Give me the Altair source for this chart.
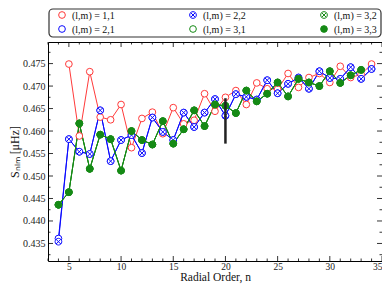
import altair as alt
import pandas as pd

# ---------------- data ----------------
n_red = list(range(5, 35))
s_11 = [0.4749, 0.4589, 0.4732, 0.4631, 0.4625, 0.4659, 0.4563, 0.4628, 0.4642, 0.4594,
        0.4652, 0.4616, 0.4624, 0.4683, 0.4644, 0.4675, 0.4690, 0.4659, 0.4707, 0.4694,
        0.4693, 0.4728, 0.4697, 0.4719, 0.4728, 0.4708, 0.4744, 0.4719, 0.4726, 0.4749]

n_blue = list(range(4, 35))
s_21 = [0.4361, 0.4582, 0.4554, 0.4549, 0.4646, 0.4533, 0.4580, 0.4591, 0.4551, 0.4630,
        0.4598, 0.4580, 0.4641, 0.4609, 0.4641, 0.4671, 0.4634, 0.4682, 0.4676, 0.4670,
        0.4713, 0.4684, 0.4705, 0.4719, 0.4694, 0.4733, 0.4718, 0.4716, 0.4742, 0.4716,
        0.4738]
s_22 = [0.4354, 0.4582, 0.4554, 0.4549, 0.4646, 0.4533, 0.4580, 0.4591, 0.4551, 0.4630,
        0.4598, 0.4580, 0.4641, 0.4609, 0.4641, 0.4671, 0.4634, 0.4682, 0.4676, 0.4670,
        0.4713, 0.4684, 0.4705, 0.4719, 0.4694, 0.4733, 0.4718, 0.4716, 0.4742, 0.4716,
        0.4738]

n_green = list(range(4, 34))
s_31 = [0.4436, 0.4464, 0.4617, 0.4516, 0.4592, 0.4582, 0.4512, 0.4600, 0.4580, 0.4570,
        0.4622, 0.4572, 0.4604, 0.4646, 0.4611, 0.4659, 0.4656, 0.4640, 0.4690, 0.4666,
        0.4683, 0.4708, 0.4677, 0.4716, 0.4708, 0.4700, 0.4733, 0.4707, 0.4724, 0.4736]
s_32 = list(s_31)
s_33 = list(s_31)

marker_n = [20]
marker_lo = [0.4572]
marker_hi = [0.4673]

x_major = [5, 10, 15, 20, 25, 30, 35]
x_minor = [3, 4, 6, 7, 8, 9, 11, 12, 13, 14, 16, 17, 18, 19, 21, 22, 23, 24,
           26, 27, 28, 29, 31, 32, 33, 34]
y_major = [0.435, 0.440, 0.445, 0.450, 0.455, 0.460, 0.465, 0.470, 0.475]
y_minor = [0.4325, 0.4375, 0.4425, 0.4475, 0.4525, 0.4575, 0.4625, 0.4675, 0.4725, 0.4775]

# legend entries (column-major layout as in the reference)
legend_series = ["1,1", "2,2", "3,2", "2,1", "3,1", "3,3"]
legend_col = [0, 1, 2, 0, 1, 2]
legend_row = [0, 0, 0, 1, 1, 1]

# ---------------- tables ----------------
series = [("1,1", n_red, s_11), ("2,1", n_blue, s_21), ("2,2", n_blue, s_22),
          ("3,1", n_green, s_31), ("3,2", n_green, s_32), ("3,3", n_green, s_33)]
rows = []
k = 0
for name, ns, ss in series:
    for n, s in zip(ns, ss):
        rows.append({"s": name, "n": n, "S": s, "k": k})
        k += 1
df = pd.DataFrame(rows)

RED = "#ff3a3a"
BLUE = "#0a0aff"
GREEN = "#158a15"
FONT = "Liberation Serif"
XPATH = ("M-1,0A1,1,0,1,1,1,0A1,1,0,1,1,-1,0Z"
         "M-0.7071,-0.7071L0.7071,0.7071M-0.7071,0.7071L0.7071,-0.7071")

dom = ["1,1", "2,2", "3,2", "2,1", "3,1", "3,3"]
stroke_range = [RED, BLUE, GREEN, BLUE, GREEN, GREEN]
fill_range = ["white", "white", "white", "white", "white", GREEN]
shape_range = ["circle", XPATH, XPATH, "circle", "circle", "circle"]

W, H = 334, 219
xs = alt.Scale(domain=[3, 35], nice=False, zero=False)
ys = alt.Scale(domain=[0.4311, 0.4798], nice=False, zero=False)
xax = alt.Axis(values=x_major, format="d", title="Radial Order, n", ticks=False,
               domain=False, grid=False, labelPadding=0, titlePadding=1,
               labelFontSize=9.5, titleFontSize=11.5)
yax = alt.Axis(values=y_major, format=".3f", title="Sₙₗₘ [μHz]", ticks=False,
               domain=False, grid=False, labelPadding=3, titlePadding=1)
X = alt.X("n:Q", scale=xs, axis=xax)
Y = alt.Y("S:Q", scale=ys, axis=yax)

stroke_enc = alt.Stroke("s:N", scale=alt.Scale(domain=dom, range=stroke_range), legend=None)
fill_enc = alt.Fill("s:N", scale=alt.Scale(domain=dom, range=fill_range), legend=None)
shape_enc = alt.Shape("s:N", scale=alt.Scale(domain=dom, range=shape_range), legend=None)

lines = alt.Chart(df).mark_line(strokeWidth=1).encode(
    x=X, y=Y, detail="s:N", order=alt.Order("n:Q"), stroke=stroke_enc)

pts = alt.Chart(df).mark_point(size=45, strokeWidth=1, opacity=1).encode(
    x=X, y=Y, stroke=stroke_enc, fill=fill_enc, shape=shape_enc,
    order=alt.Order("k:Q"))

mdf = pd.DataFrame({"n": marker_n, "S": marker_lo, "S2": marker_hi})
mrule = alt.Chart(mdf).mark_rule(color="#222222", strokeWidth=2.5).encode(
    x=X, y=Y, y2="S2:Q")

def xticks(vals, length):
    d = pd.DataFrame({"n": vals})
    b = alt.Chart(d).mark_rule(color="black", strokeWidth=0.8).encode(
        x=X, y=alt.value(H), y2=alt.value(H - length))
    t = alt.Chart(d).mark_rule(color="black", strokeWidth=0.8).encode(
        x=X, y=alt.value(0), y2=alt.value(length))
    return [b, t]

def yticks(vals, length):
    d = pd.DataFrame({"S": vals})
    l = alt.Chart(d).mark_rule(color="black", strokeWidth=0.8).encode(
        y=Y, x=alt.value(0), x2=alt.value(length))
    r = alt.Chart(d).mark_rule(color="black", strokeWidth=0.8).encode(
        y=Y, x=alt.value(W), x2=alt.value(W - length))
    return [l, r]

ticks = xticks(x_major, 5) + xticks(x_minor, 2.5) + yticks(y_major, 5) + yticks(y_minor, 2.5)

main = alt.layer(lines, pts, mrule, *ticks)

# ---------------- legend (drawn above the plot) ----------------
ldf = pd.DataFrame({"s": legend_series, "col": legend_col, "row": legend_row,
                    "label": ["(l,m) = " + s for s in legend_series]})
LX = alt.X("col:Q", scale=alt.Scale(domain=[0, 2], range=[14, 276]), axis=None)
LY = alt.Y("row:Q", scale=alt.Scale(domain=[0, 1], range=[-27, -13]), axis=None)

box = alt.Chart(pd.DataFrame({"b": [0]})).mark_rect(
    fill="white", stroke="#333333", strokeWidth=1.2, cornerRadius=4).encode(
    x=alt.value(1), x2=alt.value(333), y=alt.value(-33), y2=alt.value(-5))
lpts = alt.Chart(ldf).mark_point(size=45, strokeWidth=1, opacity=1).encode(
    x=LX, y=LY, stroke=stroke_enc, fill=fill_enc, shape=shape_enc)
ltxt = alt.Chart(ldf).mark_text(align="left", baseline="middle", dx=10, dy=0.5,
                                font=FONT, fontSize=10, color="#111111").encode(
    x=LX, y=LY, text="label:N")

legend = alt.layer(box, lpts, ltxt)

chart = alt.layer(main, legend).resolve_scale(x="independent", y="independent").properties(
    width=W, height=H,
    padding={"left": 40, "top": 34, "right": 0, "bottom": 24},
    autosize=alt.AutoSizeParams(type="none"),
).configure_view(stroke="black", strokeWidth=1).configure_axis(
    labelFont=FONT, titleFont=FONT, labelFontSize=10, titleFontSize=12,
    labelColor="#222222", titleColor="#111111", titleFontWeight="normal")

chart.save("out.html", embed_options={"renderer": "svg", "actions": False})
